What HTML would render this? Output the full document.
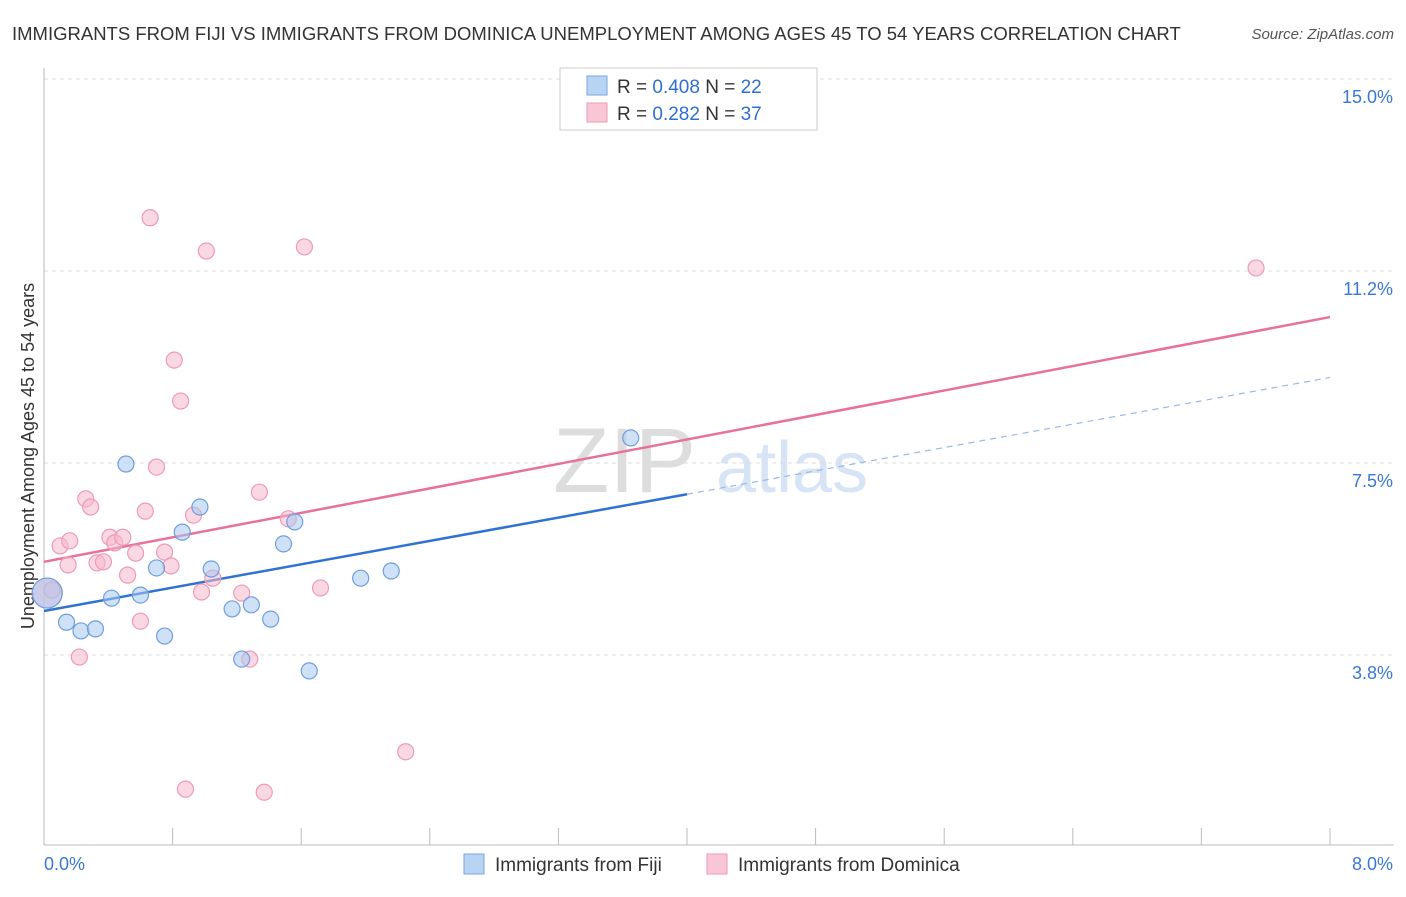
<!DOCTYPE html>
<html><head><meta charset="utf-8"><style>
body{margin:0;background:#fff;font-family:"Liberation Sans",sans-serif}
svg text{font-family:"Liberation Sans",sans-serif}
</style></head><body>
<svg width="1406" height="892" id="c">
<text x="12" y="40" font-size="18.5" fill="#333">IMMIGRANTS FROM FIJI VS IMMIGRANTS FROM DOMINICA UNEMPLOYMENT AMONG AGES 45 TO 54 YEARS CORRELATION CHART</text>
<text x="1394" y="39" font-size="15" fill="#555" text-anchor="end" font-style="italic">Source: ZipAtlas.com</text>
<text x="34" y="456" font-size="18" fill="#333" text-anchor="middle" transform="rotate(-90 34 456)">Unemployment Among Ages 45 to 54 years</text>
<g><text x="553" y="492" font-size="92" fill="#ddd" font-family="Liberation Serif">ZIP</text><text x="716" y="492" font-size="72" fill="#d6e4f5">atlas</text></g>
<g id="grid"></g><g id="lines"></g><g id="pts"></g>
<g>
<rect x="560" y="68" width="257" height="62" fill="#fff" stroke="#ccc"/>
<rect x="587" y="76" width="20" height="19" fill="#b9d3f3" stroke="#7aa6e0"/>
<rect x="587" y="103" width="20" height="19" fill="#f9c6d6" stroke="#ee9ab5"/>
<text x="617" y="93" font-size="19" fill="#333">R = <tspan fill="#2f6fd0">0.408</tspan>   N = <tspan fill="#2f6fd0">22</tspan></text>
<text x="617" y="120" font-size="19" fill="#333">R =  <tspan fill="#2f6fd0">0.282</tspan>   N = <tspan fill="#2f6fd0">37</tspan></text>
</g>
<g>
<rect x="464" y="854" width="20" height="20" fill="#b9d3f3" stroke="#7aa6e0"/>
<text x="495" y="871" font-size="19" fill="#333">Immigrants from Fiji</text>
<rect x="707" y="854" width="20" height="20" fill="#f9c6d6" stroke="#ee9ab5"/>
<text x="738" y="871" font-size="19" fill="#333">Immigrants from Dominica</text>
</g>
</svg>
<script>
const yTicks=[3.75,7.5,11.25,15];
const yTickLabels=["3.8%","7.5%","11.2%","15.0%"];
const xTicks=[0,0.8,1.6,2.4,3.2,4.0,4.8,5.6,6.4,7.2,8.0];
const fijiX=[0.02,0.14,0.23,0.32,0.42,0.51,0.60,0.70,0.75,0.86,0.97,1.04,1.17,1.23,1.29,1.41,1.49,1.56,1.65,1.97,2.16,3.65];
const fijiY=[4.96,4.39,4.22,4.26,4.86,7.48,4.92,5.45,4.12,6.15,6.64,5.43,4.65,3.67,4.73,4.45,5.92,6.35,3.44,5.25,5.39,7.99];
const domX=[0.02,0.10,0.16,0.15,0.22,0.26,0.29,0.33,0.37,0.41,0.44,0.49,0.52,0.57,0.60,0.63,0.66,0.70,0.75,0.79,0.81,0.85,0.88,0.93,0.98,1.01,1.05,1.23,1.28,1.34,1.37,1.52,1.62,1.72,2.25,7.54,0.05];
const domY=[4.96,5.88,5.98,5.51,3.71,6.80,6.64,5.55,5.57,6.05,5.94,6.05,5.31,5.74,4.41,6.56,12.29,7.42,5.76,5.49,9.51,8.71,1.13,6.48,4.98,11.64,5.25,4.96,3.67,6.93,1.07,6.41,11.72,5.06,1.86,11.31,5.02];
const fijiFit=[4.61,0.57]; // intercept, slope
const domFit=[5.57,0.5975];
const X=v=>44+v*160.75, Y=v=>847-v*51.2;
const NS="http://www.w3.org/2000/svg";
function mk(t,a,p){const e=document.createElementNS(NS,t);for(const k in a)e.setAttribute(k,a[k]);p.appendChild(e);return e;}
const g=document.getElementById('grid'),L=document.getElementById('lines'),P=document.getElementById('pts');
yTicks.forEach((v,i)=>{
 const l=mk('line',{x1:44,x2:1394,y1:Y(v),y2:Y(v),stroke:'#ddd','stroke-dasharray':'4,4'},g);
 
 
 const t=mk('text',{x:1393,y:Y(v)+24,'font-size':18,fill:'#3a78d6','text-anchor':'end'},g);t.textContent=yTickLabels[i];
 
 
});
const ax=mk('line',{x1:44,x2:1394,y1:845,y2:845,stroke:'#bbb'},g);


const ay=mk('line',{x1:44,x2:44,y1:68,y2:845,stroke:'#bbb'},g);


xTicks.forEach(v=>{const t=mk('line',{x1:X(v),x2:X(v),y1:828,y2:845,stroke:'#bbb'},g);
 
 });
[["0.0%",44,"start"],["8.0%",1393,"end"]].forEach(a=>{const t=mk('text',{x:a[1],y:870,'font-size':18,fill:'#3a78d6','text-anchor':a[2]},g);t.textContent=a[0];
 
 });
function pts(xs,ys,fill,stroke,name){xs.forEach((x,i)=>{const big=i==0;const c=mk('circle',{cx:X(x),cy:Y(ys[i]),r:big?15:8,fill:fill,'fill-opacity':big?0.6:0.55,stroke:stroke,'stroke-width':1.2},P);
 
 });}
pts(domX,domY,'#f5b8cc','#ee9ab5','dominica-point');
pts(fijiX,fijiY,'#a8c8f0','#6f9edc','fiji-point');
const f=v=>fijiFit[0]+fijiFit[1]*v, d=v=>domFit[0]+domFit[1]*v;
const l1=mk('line',{x1:X(0),y1:Y(f(0)),x2:X(4),y2:Y(f(4)),stroke:'#2f72d6','stroke-width':2.5},L);


const l2=mk('line',{x1:X(4),y1:Y(f(4)),x2:X(8),y2:Y(f(8)),stroke:'#9ab8e6','stroke-width':1.2,'stroke-dasharray':'6,5'},L);


const l3=mk('line',{x1:X(0),y1:Y(d(0)),x2:X(8),y2:Y(d(8)),stroke:'#e8709a','stroke-width':2.5},L);


</script>
</body></html>
